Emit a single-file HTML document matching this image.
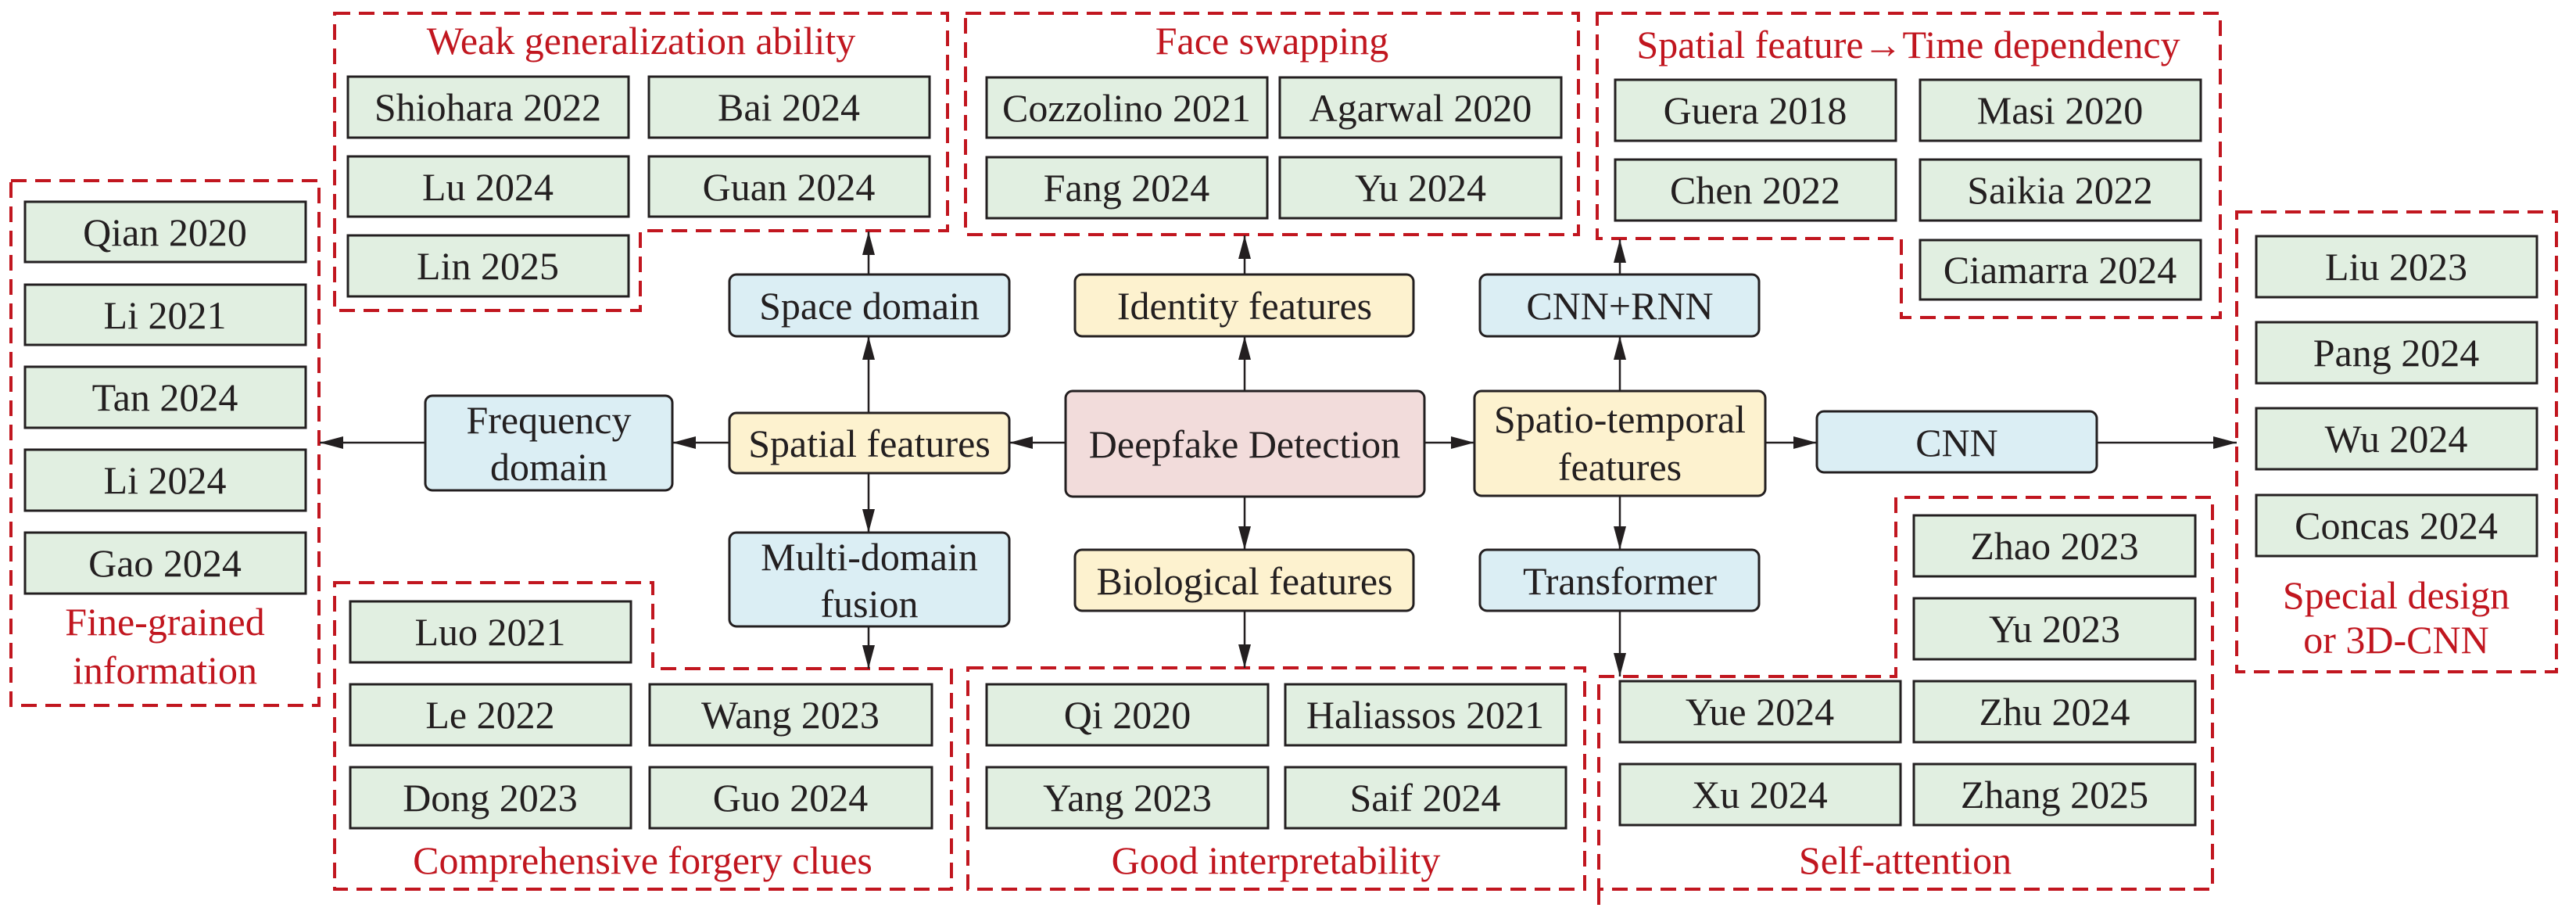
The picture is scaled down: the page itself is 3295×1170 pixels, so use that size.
<!DOCTYPE html>
<html><head><meta charset="utf-8"><style>
html,body{margin:0;padding:0;background:#fff}
svg{display:block}
text{font-family:"Liberation Serif",serif;font-size:50px;fill:#231f20;text-anchor:middle}
.t{fill:#c1161f}
.g{fill:#e1efe1;stroke:#231f20;stroke-width:3}
.d{fill:none;stroke:#c1161f;stroke-width:4;stroke-dasharray:20 11}
.l{stroke:#231f20;stroke-width:2.5;fill:none;marker-end:url(#a)}
</style></head><body>
<svg width="3295" height="1170" viewBox="0 0 3295 1170" xmlns="http://www.w3.org/2000/svg">
<defs><marker id="a" markerWidth="30" markerHeight="16" refX="30" refY="8" orient="auto" markerUnits="userSpaceOnUse"><path d="M0,0 L30,8 L0,16 Z" fill="#231f20"/></marker></defs>

<!-- dashed groups -->
<path class="d" d="M428,17 H1212 V295 H819 V397 H428 Z"/>
<rect class="d" x="1235" y="17" width="784" height="283"/>
<path class="d" d="M2043,17 H2840 V406 H2432 V305 H2043 Z"/>
<rect class="d" x="14" y="231" width="394" height="671"/>
<path class="d" d="M428,745 H835 V855 H1217 V1137 H428 Z"/>
<rect class="d" x="1238" y="854" width="789" height="283"/>
<path class="d" d="M2045,865 H2425 V636 H2830 V1137 H2045 Z M2045,1137 V1162"/>
<rect class="d" x="2861" y="271" width="409" height="588"/>

<!-- titles -->
<text class="t" x="820" y="69">Weak generalization ability</text>
<text class="t" x="1627" y="69">Face swapping</text>
<text class="t" x="2441" y="74">Spatial feature→Time dependency</text>
<text class="t" x="211" y="812">Fine-grained</text>
<text class="t" x="211" y="874">information</text>
<text class="t" x="822" y="1117">Comprehensive forgery clues</text>
<text class="t" x="1632" y="1117">Good interpretability</text>
<text class="t" x="2437" y="1117">Self-attention</text>
<text class="t" x="3065" y="778">Special design</text>
<text class="t" x="3065" y="835">or 3D-CNN</text>

<!-- green boxes -->
<g>
<rect class="g" x="445" y="98" width="359" height="78"/><text x="624" y="154">Shiohara 2022</text>
<rect class="g" x="830" y="98" width="359" height="78"/><text x="1009" y="154">Bai 2024</text>
<rect class="g" x="445" y="200" width="359" height="77"/><text x="624" y="256">Lu 2024</text>
<rect class="g" x="830" y="200" width="359" height="77"/><text x="1009" y="256">Guan 2024</text>
<rect class="g" x="445" y="301" width="359" height="78"/><text x="624" y="357">Lin 2025</text>

<rect class="g" x="1262" y="99" width="359" height="77"/><text x="1441" y="155">Cozzolino 2021</text>
<rect class="g" x="1637" y="99" width="360" height="77"/><text x="1817" y="155">Agarwal 2020</text>
<rect class="g" x="1262" y="201" width="359" height="78"/><text x="1441" y="257">Fang 2024</text>
<rect class="g" x="1637" y="201" width="360" height="78"/><text x="1817" y="257">Yu 2024</text>

<rect class="g" x="2066" y="102" width="359" height="78"/><text x="2245" y="158">Guera 2018</text>
<rect class="g" x="2456" y="102" width="359" height="78"/><text x="2635" y="158">Masi 2020</text>
<rect class="g" x="2066" y="204" width="359" height="78"/><text x="2245" y="260">Chen 2022</text>
<rect class="g" x="2456" y="204" width="359" height="78"/><text x="2635" y="260">Saikia 2022</text>
<rect class="g" x="2456" y="307" width="359" height="76"/><text x="2635" y="362">Ciamarra 2024</text>

<rect class="g" x="32" y="258" width="359" height="77"/><text x="211" y="314">Qian 2020</text>
<rect class="g" x="32" y="364" width="359" height="77"/><text x="211" y="420">Li 2021</text>
<rect class="g" x="32" y="469" width="359" height="78"/><text x="211" y="525">Tan 2024</text>
<rect class="g" x="32" y="575" width="359" height="78"/><text x="211" y="631">Li 2024</text>
<rect class="g" x="32" y="681" width="359" height="78"/><text x="211" y="737">Gao 2024</text>

<rect class="g" x="448" y="769" width="359" height="78"/><text x="627" y="825">Luo 2021</text>
<rect class="g" x="448" y="875" width="359" height="78"/><text x="627" y="931">Le 2022</text>
<rect class="g" x="831" y="875" width="361" height="78"/><text x="1011" y="931">Wang 2023</text>
<rect class="g" x="448" y="981" width="359" height="78"/><text x="627" y="1037">Dong 2023</text>
<rect class="g" x="831" y="981" width="361" height="78"/><text x="1011" y="1037">Guo 2024</text>

<rect class="g" x="1262" y="875" width="360" height="78"/><text x="1442" y="931">Qi 2020</text>
<rect class="g" x="1644" y="875" width="359" height="78"/><text x="1823" y="931">Haliassos 2021</text>
<rect class="g" x="1262" y="981" width="360" height="78"/><text x="1442" y="1037">Yang 2023</text>
<rect class="g" x="1644" y="981" width="359" height="78"/><text x="1823" y="1037">Saif 2024</text>

<rect class="g" x="2448" y="659" width="360" height="78"/><text x="2628" y="715">Zhao 2023</text>
<rect class="g" x="2448" y="765" width="360" height="78"/><text x="2628" y="821">Yu 2023</text>
<rect class="g" x="2072" y="871" width="359" height="78"/><text x="2251" y="927">Yue 2024</text>
<rect class="g" x="2448" y="871" width="360" height="78"/><text x="2628" y="927">Zhu 2024</text>
<rect class="g" x="2072" y="977" width="359" height="78"/><text x="2251" y="1033">Xu 2024</text>
<rect class="g" x="2448" y="977" width="360" height="78"/><text x="2628" y="1033">Zhang 2025</text>

<rect class="g" x="2886" y="302" width="359" height="78"/><text x="3065" y="358">Liu 2023</text>
<rect class="g" x="2886" y="412" width="359" height="78"/><text x="3065" y="468">Pang 2024</text>
<rect class="g" x="2886" y="522" width="359" height="78"/><text x="3065" y="578">Wu 2024</text>
<rect class="g" x="2886" y="633" width="359" height="78"/><text x="3065" y="689">Concas 2024</text>
</g>

<!-- arrows -->
<line class="l" x1="1111" y1="528" x2="1111" y2="430"/>
<line class="l" x1="1111" y1="351" x2="1111" y2="296"/>
<line class="l" x1="1111" y1="605" x2="1111" y2="681"/>
<line class="l" x1="1111" y1="801" x2="1111" y2="855"/>
<line class="l" x1="933" y1="566" x2="860" y2="566"/>
<line class="l" x1="544" y1="566" x2="409" y2="566"/>
<line class="l" x1="1363" y1="566" x2="1291" y2="566"/>
<line class="l" x1="1592" y1="500" x2="1592" y2="430"/>
<line class="l" x1="1592" y1="351" x2="1592" y2="301"/>
<line class="l" x1="1592" y1="635" x2="1592" y2="703"/>
<line class="l" x1="1592" y1="781" x2="1592" y2="854"/>
<line class="l" x1="1822" y1="566" x2="1886" y2="566"/>
<line class="l" x1="2072" y1="500" x2="2072" y2="430"/>
<line class="l" x1="2072" y1="351" x2="2072" y2="306"/>
<line class="l" x1="2072" y1="634" x2="2072" y2="703"/>
<line class="l" x1="2072" y1="781" x2="2072" y2="865"/>
<line class="l" x1="2258" y1="566" x2="2324" y2="566"/>
<line class="l" x1="2682" y1="566" x2="2861" y2="566"/>

<!-- rounded nodes -->
<g stroke="#231f20" stroke-width="3">
<rect x="933" y="351" width="358" height="79" rx="9" fill="#dbeef4"/>
<rect x="933" y="528" width="358" height="77" rx="9" fill="#fdf2cf"/>
<rect x="933" y="681" width="358" height="120" rx="9" fill="#dbeef4"/>
<rect x="544" y="506" width="316" height="121" rx="9" fill="#dbeef4"/>
<rect x="1375" y="351" width="433" height="79" rx="9" fill="#fdf2cf"/>
<rect x="1363" y="500" width="459" height="135" rx="9" fill="#f2dcdb"/>
<rect x="1375" y="703" width="433" height="78" rx="9" fill="#fdf2cf"/>
<rect x="1893" y="351" width="357" height="79" rx="9" fill="#dbeef4"/>
<rect x="1886" y="500" width="372" height="134" rx="9" fill="#fdf2cf"/>
<rect x="1893" y="703" width="357" height="78" rx="9" fill="#dbeef4"/>
<rect x="2324" y="526" width="358" height="78" rx="9" fill="#dbeef4"/>
</g>
<text x="1112" y="408">Space domain</text>
<text x="1112" y="584">Spatial features</text>
<text x="1112" y="729">Multi-domain</text>
<text x="1112" y="789">fusion</text>
<text x="702" y="554">Frequency</text>
<text x="702" y="614">domain</text>
<text x="1592" y="408">Identity features</text>
<text x="1592" y="585">Deepfake Detection</text>
<text x="1592" y="760">Biological features</text>
<text x="2072" y="408">CNN+RNN</text>
<text x="2072" y="553">Spatio-temporal</text>
<text x="2072" y="614">features</text>
<text x="2072" y="760">Transformer</text>
<text x="2503" y="583">CNN</text>
</svg>
</body></html>
